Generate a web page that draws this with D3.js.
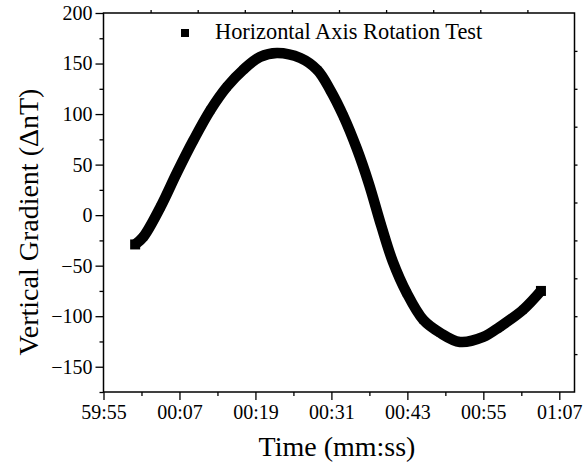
<!DOCTYPE html>
<html>
<head>
<meta charset="utf-8">
<script src="https://cdn.jsdelivr.net/npm/d3@7/dist/d3.min.js"></script>
<style>
  html, body { margin: 0; padding: 0; background: #fff; }
  svg { display: block; }
</style>
</head>
<body>
<script>
// Elapsed time in seconds (00:00 = 0) and vertical gradient in nT
const timeSec  = [0, 1.3, 4.0, 6.6, 9.2, 11.9, 14.5, 17.1, 19.7, 22.4, 26.1, 28.8, 30.8, 32.9,
                  35.0, 36.9, 38.9, 40.7, 42.9, 45.5, 48.2, 51.3, 55.0, 57.6, 61.3, 64.1];
const gradient = [-29, -21.5, 8, 42, 74, 104, 127, 144, 156.5, 160.5, 155.5, 143.5, 124, 98,
                  66, 31.5, -11, -46, -77, -103.5, -116.5, -125.5, -120.5, -110.5, -93.5, -75];

const xMajorTicks = [-5, 7, 19, 31, 43, 55, 67];
const xMinorTicks = [1, 13, 25, 37, 49, 61];
const yMajorTicks = [-150, -100, -50, 0, 50, 100, 150, 200];
const yMinorTicks = [-175, -125, -75, -25, 25, 75, 125, 175];

const seriesName = "Horizontal Axis Rotation Test";
const xTitle = "Time (mm:ss)";
const yTitle = "Vertical Gradient (\u0394nT)";

const SERIF = '"Liberation Serif", "Times New Roman", Times, serif';
const W = 585, H = 473;
const plot = { left: 103.5, right: 574.5, top: 13, bottom: 392 };

const svg = d3.select("body").append("svg").attr("width", W).attr("height", H)
  .attr("font-family", SERIF);

const x = d3.scaleLinear().domain([-5, 69.4]).range([plot.left, plot.right]);
const y = d3.scaleLinear().domain([-175, 200]).range([plot.bottom, plot.top]);

// mm:ss, wrapping negative seconds to the previous hour
const fmtTime = t => {
  const total = t < 0 ? 3600 + t : t;
  const mm = Math.floor(total / 60) % 60, ss = Math.round(total % 60);
  return String(mm).padStart(2, "0") + ":" + String(ss).padStart(2, "0");
};

function styleAxis(g) {
  g.attr("font-family", SERIF).attr("font-size", 20);
  g.select(".domain").remove();
  g.selectAll("line").attr("stroke", "#000").attr("stroke-width", 1.3);
  g.selectAll("text").attr("fill", "#000").attr("font-family", SERIF).attr("font-size", 20);
}

// bottom axis
svg.append("g").attr("transform", `translate(0,${plot.bottom})`)
  .call(d3.axisBottom(x).tickValues(xMajorTicks).tickSize(8).tickPadding(5).tickFormat(fmtTime))
  .call(styleAxis);
svg.append("g").attr("transform", `translate(0,${plot.bottom})`)
  .call(d3.axisBottom(x).tickValues(xMinorTicks).tickSize(4).tickFormat(""))
  .call(styleAxis);

// left axis
svg.append("g").attr("transform", `translate(${plot.left},0)`)
  .call(d3.axisLeft(y).tickValues(yMajorTicks).tickSize(8).tickPadding(3))
  .call(styleAxis);
svg.append("g").attr("transform", `translate(${plot.left},0)`)
  .call(d3.axisLeft(y).tickValues(yMinorTicks).tickSize(4).tickFormat(""))
  .call(styleAxis);

// top and right axes: ten equal divisions, unlabeled
const xd = x.domain(), yd = y.domain();
svg.append("g").attr("transform", `translate(0,${plot.top})`)
  .call(d3.axisTop(x).tickValues(d3.range(1, 10).map(i => xd[0] + (xd[1] - xd[0]) * i / 10)).tickSize(3).tickFormat(""))
  .call(styleAxis);
svg.append("g").attr("transform", `translate(${plot.right},0)`)
  .call(d3.axisRight(y).tickValues(d3.range(1, 10).map(i => yd[0] + (yd[1] - yd[0]) * i / 10)).tickSize(3).tickFormat(""))
  .call(styleAxis);

// frame
svg.append("rect")
  .attr("x", plot.left).attr("y", plot.top)
  .attr("width", plot.right - plot.left).attr("height", plot.bottom - plot.top)
  .attr("fill", "none").attr("stroke", "#000").attr("stroke-width", 1.5);

// series: square markers joined into a thick band
const pts = timeSec.map((t, i) => [t, gradient[i]]);
svg.append("path")
  .datum(pts)
  .attr("fill", "none").attr("stroke", "#000").attr("stroke-width", 10.5)
  .attr("stroke-linejoin", "round")
  .attr("d", d3.line().x(d => x(d[0])).y(d => y(d[1])).curve(d3.curveCatmullRom));
const ms = 7.5;
svg.append("g").selectAll("rect").data(pts).join("rect")
  .attr("x", d => x(d[0]) - ms / 2).attr("y", d => y(d[1]) - ms / 2)
  .attr("width", ms).attr("height", ms).attr("fill", "#000");
// end markers are full size
svg.append("g").selectAll("rect").data([pts[0], pts[pts.length - 1]]).join("rect")
  .attr("x", d => x(d[0]) - 5).attr("y", d => y(d[1]) - 5)
  .attr("width", 10).attr("height", 10).attr("fill", "#000");

// legend
svg.append("rect").attr("x", 181).attr("y", 29).attr("width", 8).attr("height", 8).attr("fill", "#000");
svg.append("text").attr("x", 215).attr("y", 39).attr("font-size", 22.4).attr("fill", "#000").text(seriesName);

// axis titles
svg.append("text").attr("x", (plot.left + plot.right) / 2 - 2).attr("y", 456)
  .attr("text-anchor", "middle").attr("font-size", 28).attr("fill", "#000").text(xTitle);
svg.append("text").attr("transform", "translate(38,222) rotate(-90)")
  .attr("text-anchor", "middle").attr("font-size", 28).attr("fill", "#000").text(yTitle);
</script>
</body>
</html>
